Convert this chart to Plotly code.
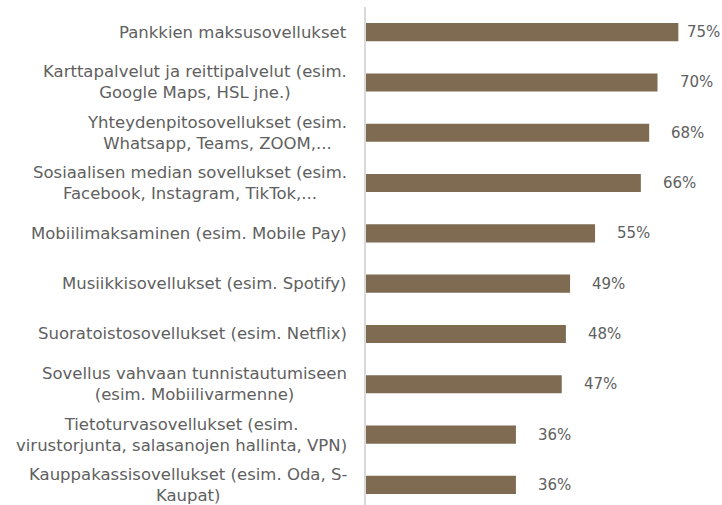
import plotly.graph_objects as go

categories = [
    "Pankkien maksusovellukset",
    "Karttapalvelut ja reittipalvelut (esim.<br>Google Maps, HSL jne.)",
    "Yhteydenpitosovellukset (esim.<br>Whatsapp, Teams, ZOOM,...",
    "Sosiaalisen median sovellukset (esim.<br>Facebook, Instagram, TikTok,...",
    "Mobiilimaksaminen (esim. Mobile Pay)",
    "Musiikkisovellukset (esim. Spotify)",
    "Suoratoistosovellukset (esim. Netflix)",
    "Sovellus vahvaan tunnistautumiseen<br>(esim. Mobiilivarmenne)",
    "Tietoturvasovellukset (esim.<br>virustorjunta, salasanojen hallinta, VPN)",
    "Kauppakassisovellukset (esim. Oda, S-<br>Kaupat)",
]
values = [75, 70, 68, 66, 55, 49, 48, 47, 36, 36]

W, H = 722, 505
ML, MR, MT, MB = 366, 22, 7, 0
XMAX = 80.2
FONT = "DejaVu Sans"
GRAY = "#606060"

fig = go.Figure(go.Bar(
    x=values, y=list(range(len(values))), orientation="h",
    marker=dict(color="#7F6A52", line=dict(width=0)),
    width=0.36, hoverinfo="skip",
))

plot_w = W - ML - MR
pxper = plot_w / XMAX
annotations = []
for i, (c, v) in enumerate(zip(categories, values)):
    annotations.append(dict(
        x=0, xref="paper", y=i, yref="y", text=c, showarrow=False,
        xanchor="right", yanchor="middle", align="center", xshift=-17,
        font=dict(family=FONT, size=16.5, color=GRAY),
    ))
    bar_end = ML + v * pxper
    shift = min(20, W - 2 - bar_end - 35)
    annotations.append(dict(
        x=v, xref="x", y=i, yref="y", text=f"{v}%", showarrow=False,
        xanchor="left", yanchor="middle", xshift=shift,
        font=dict(family=FONT, size=15, color=GRAY),
    ))

fig.update_layout(
    width=W, height=H, margin=dict(l=ML, r=MR, t=MT, b=MB, autoexpand=False),
    paper_bgcolor="white", plot_bgcolor="white",
    showlegend=False,
    xaxis=dict(range=[0, XMAX], visible=False, showgrid=False, zeroline=False),
    yaxis=dict(range=[9.4, -0.5], showticklabels=False, showgrid=False,
               zeroline=False, showline=True, linecolor="#d9d9d9", linewidth=2,
               ticks=""),
    annotations=annotations,
)
fig.write_html("out.html", config={"displayModeBar": False},
               post_script="document.body.style.margin='0';document.body.style.overflow='hidden';")
